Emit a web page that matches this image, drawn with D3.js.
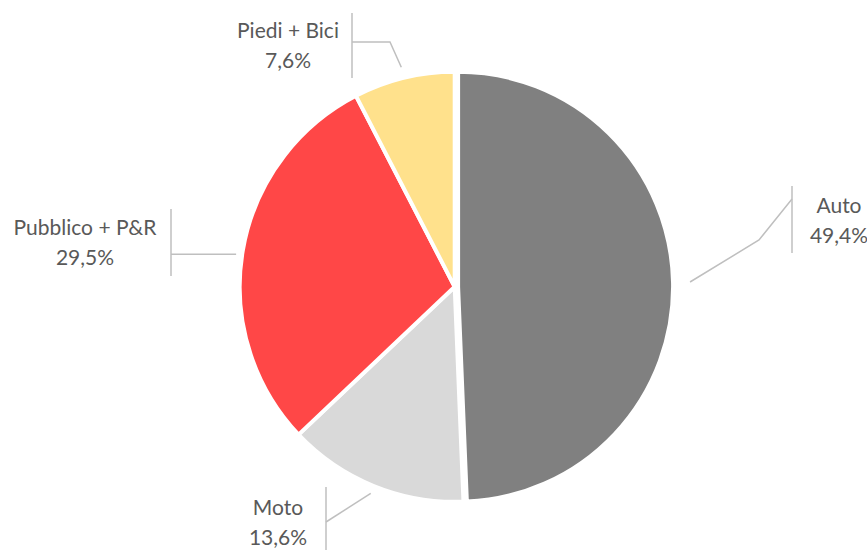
<!DOCTYPE html>
<html>
<head>
<meta charset="utf-8">
<script src="https://cdn.jsdelivr.net/npm/d3@7/dist/d3.min.js"></script>
<style>
  html, body { margin: 0; padding: 0; background: #ffffff; }
  svg { display: block; }
  text { font-family: Lato, "Open Sans", sans-serif; fill: #595959; }
</style>
</head>
<body>
<svg id="chart" width="867" height="550"></svg>
<script>
// Modal split: share of trips per transport mode
const categories = ["Auto", "Moto", "Pubblico + P&R", "Piedi + Bici"];
const shares = [49.4, 13.6, 29.5, 7.6];
const valueLabels = ["49,4%", "13,6%", "29,5%", "7,6%"];
const colors = ["#808080", "#D9D9D9", "#FF4747", "#FFE18C"];

// Pie geometry
const cx = 454.7, cy = 286.8, radius = 215;
const explode = [3.4, 0, 0, 0];

// Label placement: text centre, first baseline, side bar and leader path
// (a null y in a path point keeps the previous point's y, giving a level segment)
const labelLayout = [
  { tx: 839, ty: 213, barX: 792, barY: [186, 253], leadR: 232, angShift: 0,     path: [[759, 240], [792, 199]] },
  { tx: 278, ty: 515, barX: 326, barY: [487, 552], leadR: 223, angShift: 0,     path: [[326, 522]] },
  { tx: 85,  ty: 235, barX: 171, barY: [209, 276], leadR: 221, angShift: -0.02, path: [[171, null]] },
  { tx: 288, ty: 38,  barX: 352, barY: [13, 78],   leadR: 226, angShift: 0,     path: [[390, 42], [352, 42]] }
];

const svg = d3.select("#chart");

const pie = d3.pie().sort(null).value(d => d).startAngle(0).endAngle(2 * Math.PI);
const arcs = pie(shares);

const arc = d3.arc().innerRadius(0).outerRadius(radius);

const g = svg.append("g").attr("transform", `translate(${cx},${cy})`);

const mid = a => (a.startAngle + a.endAngle) / 2;
const polar = (ang, r) => [Math.sin(ang) * r, -Math.cos(ang) * r];

g.selectAll("path.slice")
  .data(arcs)
  .join("path")
  .attr("class", "slice")
  .attr("d", arc)
  .attr("fill", (d, i) => colors[i])
  .attr("stroke", "#ffffff")
  .attr("stroke-width", 4)
  .attr("stroke-linejoin", "round")
  .attr("transform", (d, i) => {
    const [dx, dy] = polar(mid(d), explode[i]);
    return `translate(${dx},${dy})`;
  });

// Leader lines from each slice to its label
const line = d3.line();
arcs.forEach((a, i) => {
  const L = labelLayout[i];
  const [sx, sy] = polar(mid(a) + L.angShift, L.leadR);
  const [ex, ey] = polar(mid(a), explode[i]);
  const pts = [[cx + sx + ex, cy + sy + ey]];
  L.path.forEach(p => {
    const prev = pts[pts.length - 1];
    pts.push([p[0], p[1] == null ? prev[1] : p[1]]);
  });
  svg.append("path")
    .attr("d", line(pts))
    .attr("fill", "none")
    .attr("stroke", "#BFBFBF")
    .attr("stroke-width", 1.5);
  svg.append("line")
    .attr("x1", L.barX).attr("x2", L.barX)
    .attr("y1", L.barY[0]).attr("y2", L.barY[1])
    .attr("stroke", "#BFBFBF")
    .attr("stroke-width", 1.5);
});

// Category and percentage labels
const labels = svg.selectAll("text.label")
  .data(arcs)
  .join("text")
  .attr("class", "label")
  .attr("text-anchor", "middle")
  .attr("font-size", 21)
  .attr("x", (d, i) => labelLayout[i].tx)
  .attr("y", (d, i) => labelLayout[i].ty);

labels.append("tspan")
  .attr("x", (d, i) => labelLayout[i].tx)
  .text((d, i) => categories[i]);
labels.append("tspan")
  .attr("x", (d, i) => labelLayout[i].tx)
  .attr("dy", 30)
  .text((d, i) => valueLabels[i]);
</script>
</body>
</html>
